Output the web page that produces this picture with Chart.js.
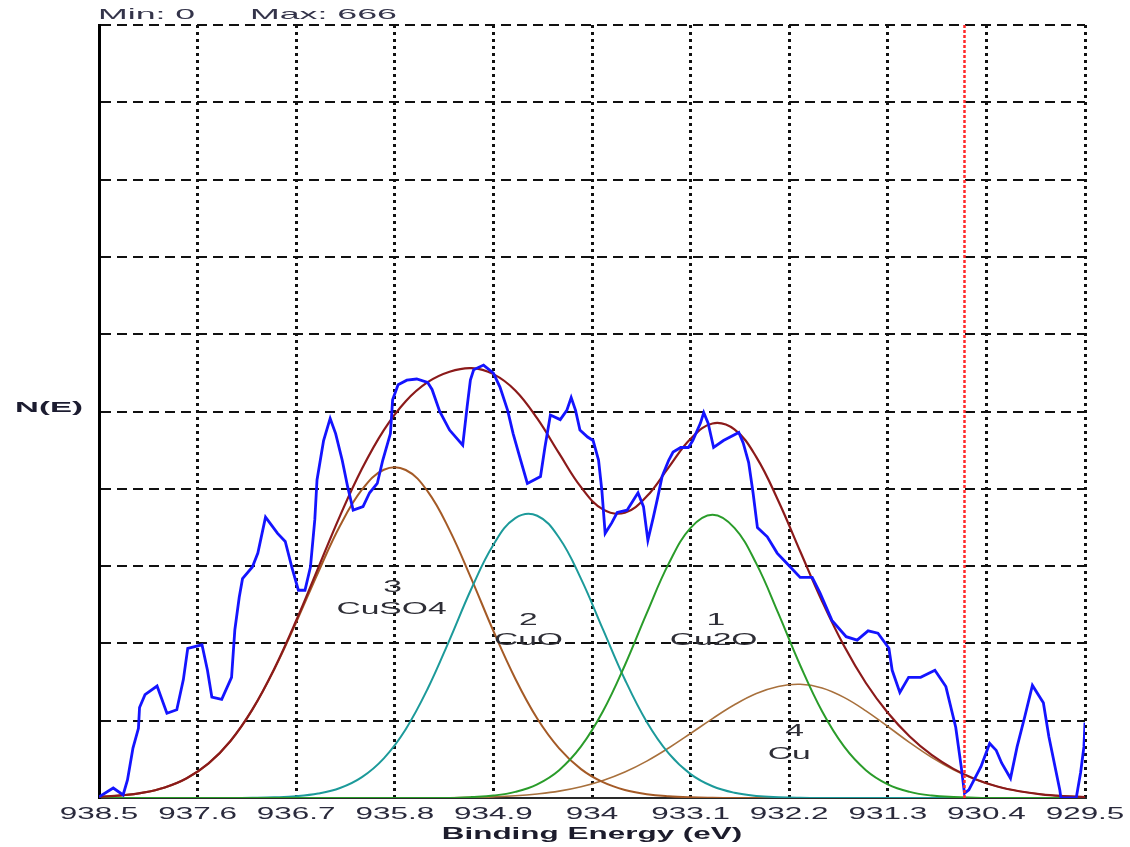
<!DOCTYPE html>
<html>
<head>
<meta charset="utf-8">
<script src="https://cdn.jsdelivr.net/npm/chart.js@4.4.1/dist/chart.umd.min.js"></script>
<style>
  html, body { margin: 0; padding: 0; background: #ffffff; }
  #wrap { width: 1130px; height: 847px; }
</style>
</head>
<body>
<div id="wrap"><canvas id="c" width="1130" height="847"></canvas></div>
<script>
// ---------- data ----------
const energyGrid = [938.5, 938.3, 938.1, 937.9, 937.7, 937.5, 937.3, 937.1, 936.9, 936.7,
  936.5, 936.3, 936.1, 935.9, 935.7, 935.5, 935.3, 935.1, 934.9, 934.7,
  934.5, 934.3, 934.1, 933.9, 933.7, 933.5, 933.3, 933.1, 932.9, 932.7,
  932.5, 932.3, 932.1, 931.9, 931.7, 931.5, 931.3, 931.1, 930.9, 930.7,
  930.5, 930.3, 930.1, 929.9, 929.7, 929.5];

const envelopeFit = [1.0, 2.2, 4.6, 9.1, 17.0, 29.8, 49.1, 76.3, 111.4, 152.9,
  198.1, 243.1, 283.6, 317.0, 341.9, 358.3, 367.3, 370.4, 365.2, 351.1,
  327.0, 296.9, 267.8, 248.7, 245.8, 259.9, 284.9, 309.5, 322.7, 317.5,
  293.7, 256.1, 212.6, 169.5, 131.1, 99.1, 73.4, 53.0, 37.1, 25.1,
  16.2, 9.9, 5.8, 3.2, 1.7, 0.8];

const cu2oPeak = [0, 0, 0, 0, 0, 0, 0, 0, 0, 0,
  0, 0, 0, 0, 0, 0, 0, 0.8, 2.1, 5.3,
  11.8, 24.0, 44.4, 74.7, 114.4, 159.3, 201.9, 232.7, 244.0, 232.7,
  201.9, 159.3, 114.4, 74.7, 44.4, 24.0, 11.8, 5.3, 2.1, 0.8,
  0.3, 0, 0, 0, 0, 0];

const cuoPeak = [0, 0, 0, 0, 0, 0, 0, 0.2, 0.6, 1.5,
  3.8, 8.6, 18.0, 34.2, 59.3, 94.1, 136.3, 180.5, 218.2, 241.1,
  243.2, 224.2, 188.8, 145.3, 102.1, 65.5, 38.4, 20.6, 10.1, 4.5,
  1.8, 0.7, 0.2, 0, 0, 0, 0, 0, 0, 0,
  0, 0, 0, 0, 0, 0];

const cuso4Peak = [1.0, 2.2, 4.6, 9.1, 17.0, 29.8, 49.1, 76.1, 110.8, 151.4,
  194.3, 234.5, 265.6, 282.8, 282.6, 264.2, 230.8, 188.6, 143.9, 102.8,
  68.5, 42.8, 24.9, 13.6, 6.9, 3.3, 1.5, 0.6, 0.2, 0,
  0, 0, 0, 0, 0, 0, 0, 0, 0, 0,
  0, 0, 0, 0, 0, 0];

const cuPeak = [0, 0, 0, 0, 0, 0, 0, 0, 0, 0,
  0, 0, 0, 0, 0, 0, 0.2, 0.5, 1.0, 1.9,
  3.5, 5.9, 9.7, 15.1, 22.4, 31.8, 43.1, 55.6, 68.4, 80.3,
  90.0, 96.1, 98.0, 94.8, 86.7, 75.1, 61.6, 47.7, 35.0, 24.3,
  15.9, 9.9, 5.8, 3.2, 1.7, 0.8];

const spectrumEnergy = [938.50, 938.37, 938.28, 938.24, 938.19, 938.14, 938.13, 938.08, 937.97, 937.88,
  937.79, 937.73, 937.69, 937.56, 937.51, 937.47, 937.38, 937.29, 937.26, 937.22,
  937.19, 937.10, 937.05, 936.98, 936.87, 936.80, 936.74, 936.68, 936.62, 936.57,
  936.53, 936.51, 936.45, 936.39, 936.34, 936.28, 936.23, 936.18, 936.09, 936.03,
  935.96, 935.91, 935.84, 935.82, 935.77, 935.69, 935.60, 935.50, 935.46, 935.39,
  935.30, 935.18, 935.14, 935.11, 935.08, 934.99, 934.90, 934.84, 934.77, 934.72,
  934.66, 934.59, 934.47, 934.43, 934.38, 934.29, 934.23, 934.19, 934.15, 934.11,
  934.04, 933.99, 933.94, 933.91, 933.88, 933.82, 933.77, 933.68, 933.62, 933.58,
  933.53, 933.49, 933.44, 933.40, 933.36, 933.30, 933.26, 933.19, 933.12, 933.08,
  933.01, 932.98, 932.94, 932.89, 932.80, 932.66, 932.62, 932.57, 932.53, 932.49,
  932.40, 932.31, 932.22, 932.10, 931.99, 931.92, 931.81, 931.68, 931.58, 931.48,
  931.39, 931.29, 931.26, 931.19, 931.11, 931.00, 930.87, 930.77, 930.68, 930.63,
  930.60, 930.56, 930.45, 930.37, 930.31, 930.26, 930.18, 930.12, 930.05, 929.98,
  929.88, 929.83, 929.73, 929.72, 929.58, 929.54, 929.51, 929.50];

const spectrumCounts = [1, 8.6, 2.6, 15.5, 43, 60, 78, 89, 96.5, 73,
  76, 102, 129, 132, 110, 87, 85, 104, 145, 173,
  189, 199, 211, 242, 228, 221, 199, 179, 179, 199,
  240, 274, 308, 327, 314, 291, 268, 248, 251, 263,
  271, 291, 314, 343, 356, 360, 361, 358, 352, 333,
  317, 304, 337, 360, 369, 373, 366, 354, 334, 314,
  294, 271, 277, 302, 330, 326, 334, 345, 334, 317,
  311, 308, 291, 265, 228, 237, 246, 248, 257, 263,
  251, 222, 242, 259, 277, 291, 298, 302, 302, 308,
  323, 332, 323, 302, 308, 315, 306, 289, 263, 233,
  225, 211, 202, 190, 190, 177, 153, 139, 136, 144,
  142, 129, 110, 91, 104, 104, 110, 96, 61, 27,
  4, 7, 27, 47, 41, 30, 17, 44, 70, 97,
  82, 53, 7, 0, 0, 22, 44, 65];

const tickValues = [938.5, 937.6, 936.7, 935.8, 934.9, 934.0, 933.1, 932.2, 931.3, 930.4, 929.5];
const tickLabels = ['938.5', '937.6', '936.7', '935.8', '934.9', '934', '933.1', '932.2', '931.3', '930.4', '929.5'];
const markerEnergy = 930.6;
const countMin = 0;
const countMax = 666;
const countStep = 66.6;

const peakTags = ['3', '2', '1', '4'];
const peakNames = ['CuSO4', 'CuO', 'Cu2O', 'Cu'];
const peakTagEnergy = [935.82, 934.58, 932.87, 932.15];
const peakTagLevel = [181, 153, 153, 57];
const peakNameEnergy = [935.83, 934.58, 932.89, 932.20];
const peakNameLevel = [162, 136, 136, 37];

const xTitle = 'Binding Energy (eV)';
const yTitle = 'N(E)';
const rangeText = ['Min: ' + countMin, 'Max: ' + countMax];

// ---------- build ----------
const pts = (xs, ys) => xs.map((x, i) => ({ x: x, y: ys[i] }));
const FONT = '"Liberation Sans", Arial, Helvetica, sans-serif';

const canvas = document.getElementById('c');
const ctx2d = canvas.getContext('2d');
// horizontally widened lettering (the source program draws wide glyphs)
const nativeFillText = ctx2d.fillText;
ctx2d.fillText = function (text, x, y, maxWidth) {
  const sx = this.__stretch || 1;
  if (sx === 1) {
    return maxWidth === undefined ? nativeFillText.call(this, text, x, y) : nativeFillText.call(this, text, x, y, maxWidth);
  }
  this.save();
  this.translate(x, y);
  this.scale(sx, 1);
  nativeFillText.call(this, text, 0, 0);
  this.restore();
};

function stretchText(ctx, text, x, y, font, color, sx, align) {
  ctx.save();
  ctx.font = font;
  ctx.fillStyle = color;
  ctx.textAlign = align;
  ctx.textBaseline = 'middle';
  ctx.__stretch = sx;
  ctx.fillText(text, x, y);
  ctx.__stretch = 1;
  ctx.restore();
}

const decorPlugin = {
  id: 'decor',
  beforeDraw(chart) {
    chart.ctx.__stretch = 1.85;
  },
  beforeDatasetsDraw(chart) {
    chart.ctx.__stretch = 1;
  },
  afterDraw(chart) {
    const ctx = chart.ctx;
    ctx.__stretch = 1;
    const xs = chart.scales.x, ys = chart.scales.y;
    const labColor = '#2e2e36';
    for (let i = 0; i < peakTags.length; i++) {
      stretchText(ctx, peakTags[i], xs.getPixelForValue(peakTagEnergy[i]), ys.getPixelForValue(peakTagLevel[i]),
        '16px ' + FONT, labColor, 2.1, 'center');
      stretchText(ctx, peakNames[i], xs.getPixelForValue(peakNameEnergy[i]), ys.getPixelForValue(peakNameLevel[i]),
        '16px ' + FONT, labColor, 2.1, 'center');
    }
    // y axis name (horizontal, left of the plot)
    stretchText(ctx, yTitle, 49, ys.getPixelForValue(countMax / 2) - 4, 'bold 15px ' + FONT, '#1c1c30', 2.2, 'center');
    // min / max readout above the plot
    stretchText(ctx, rangeText[0], 98, 15, '15px ' + FONT, '#34344a', 2.38, 'left');
    stretchText(ctx, rangeText[1], 250, 15, '15px ' + FONT, '#34344a', 2.38, 'left');
  }
};

const lineDs = (label, xs, ys, color, width, order, smooth) => ({
  label: label,
  data: pts(xs, ys),
  borderColor: color,
  backgroundColor: color,
  borderWidth: width,
  pointRadius: 0,
  fill: false,
  tension: smooth ? 0.4 : 0,
  order: order
});

const datasets = [
  Object.assign(lineDs('Marker', [markerEnergy, markerEnergy], [countMin, countMax], '#ff2a2a', 2.5, 0, false),
    { borderDash: [3, 2] }),
  lineDs('N(E)', spectrumEnergy, spectrumCounts, '#1414ff', 2.8, 1, false),
  lineDs('Envelope', energyGrid, envelopeFit, '#8b1a1a', 2.2, 2, true),
  lineDs('1 Cu2O', energyGrid, cu2oPeak, '#2a9c2a', 2, 3, true),
  lineDs('2 CuO', energyGrid, cuoPeak, '#1c9a9a', 2, 4, true),
  lineDs('3 CuSO4', energyGrid, cuso4Peak, '#a45a26', 2, 5, true),
  lineDs('4 Cu', energyGrid, cuPeak, '#a8703c', 1.6, 6, true)
];

new Chart(canvas, {
  type: 'line',
  data: { datasets: datasets },
  plugins: [decorPlugin],
  options: {
    responsive: false,
    animation: false,
    devicePixelRatio: 1,
    layout: { padding: { top: 25, right: 45, left: 0, bottom: 0 } },
    plugins: { legend: { display: false }, tooltip: { enabled: false } },
    elements: { point: { radius: 0 } },
    scales: {
      x: {
        type: 'linear',
        reverse: true,
        min: 929.5,
        max: 938.5,
        afterBuildTicks: (s) => { s.ticks = tickValues.map(v => ({ value: v })); },
        afterFit: (s) => { s.height = 49; },
        ticks: {
          autoSkip: false,
          maxRotation: 0,
          padding: 6,
          color: '#2a2a3c',
          font: { family: FONT, size: 17 },
          callback: (v, i) => tickLabels[i]
        },
        grid: { color: '#111111', lineWidth: 3, drawTicks: false },
        border: { display: true, color: '#2a2a2a', width: 2, dash: [3, 4] },
        title: {
          display: true,
          text: xTitle,
          color: '#1c1c2c',
          font: { family: FONT, size: 17, weight: 'bold' },
          padding: { top: 0, bottom: 2 }
        }
      },
      y: {
        min: countMin,
        max: countMax,
        ticks: { display: false, stepSize: countStep },
        afterFit: (s) => { s.width = 99; },
        grid: { color: '#111111', lineWidth: 2, drawTicks: false },
        border: { display: true, color: '#000000', width: 3, dash: [10, 6] }
      }
    }
  }
});
</script>
</body>
</html>
